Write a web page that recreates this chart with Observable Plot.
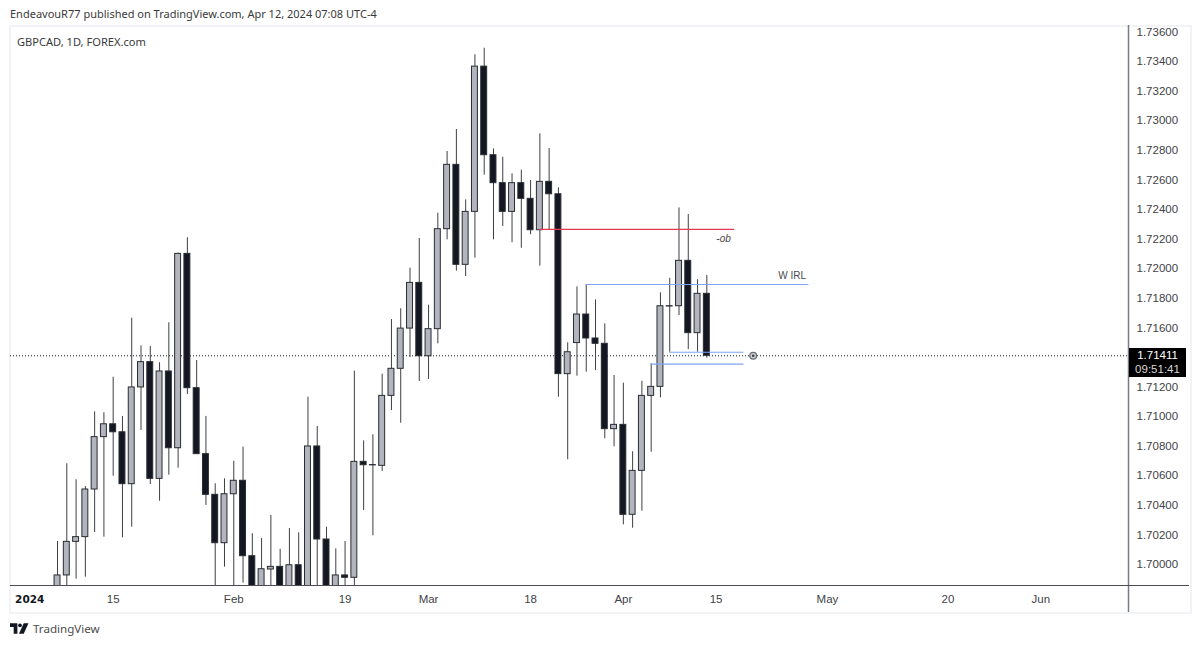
<!DOCTYPE html>
<html>
<head>
<meta charset="utf-8">
<script src="https://cdn.jsdelivr.net/npm/d3@7"></script>
<script src="https://cdn.jsdelivr.net/npm/@observablehq/plot@0.6"></script>
<style>
html,body{margin:0;padding:0;background:#fff;width:1200px;height:646px;overflow:hidden;position:relative}
#title{height:25px;padding-left:10px;font:11px/28px "Noto Sans",sans-serif;color:#3a3a3a;white-space:nowrap}
#chart svg{display:block}
#symbol{position:absolute;left:17px;top:34px;font:11.1px "Noto Sans",sans-serif;color:#3a3a3a}
#border{position:absolute;left:9px;top:25px;width:1179px;height:585px;border:2px solid #f2f3f7;box-sizing:content-box}
#priceBox{position:absolute;left:1129px;top:348px;width:57px;height:29px;background:#000;color:#fff;font:11.5px/14px "Liberation Sans",sans-serif;text-align:center;padding-top:0;box-sizing:border-box}
#priceBox .cd{color:#d8d8d8}
#footer{position:absolute;left:10px;top:621px;display:flex;align-items:center;font:11.6px "Noto Sans",sans-serif;color:#4c4c4c}
#footer svg{margin-right:4px}
</style>
</head>
<body>
<div id="border"></div>
<div id="title">EndeavouR77 published on TradingView.com, Apr 12, 2024 07:08 UTC-4</div>
<div id="chart" style="position:relative"></div>
<div id="symbol">GBPCAD, 1D, FOREX.com</div>
<div id="priceBox"><div>1.71411</div><div class="cd">09:51:41</div></div>
<div id="footer">
<svg width="19" height="13" viewBox="0 0 36 24"><path d="M0 2h14v20H7V9H0z" fill="#131722"/><circle cx="19" cy="6" r="3.6" fill="#131722"/><path d="M26 2h9l-9 20h-9z" fill="#131722"/></svg>
<span>TradingView</span>
</div>
<script>
// Trading-day index of each candle: 0 = Jan 5 2024, 70 = Apr 12 2024
const open = [1.69800,1.69926,1.70153,1.70185,1.70507,1.70861,1.70948,1.70894,1.70543,1.71197,1.71368,1.70579,1.71305,1.70786,1.72100,1.71192,1.70746,1.70471,1.70144,1.70475,1.70566,1.70056,1.69750,1.69966,1.69984,1.69780,1.69995,1.69750,1.70798,1.70169,1.69800,1.69926,1.69910,1.70694,1.70672,1.70667,1.71140,1.71323,1.71595,1.71904,1.71408,1.71591,1.72267,1.72702,1.72026,1.72384,1.73366,1.72767,1.72578,1.72384,1.72578,1.72472,1.72260,1.72587,1.72503,1.71287,1.71497,1.71690,1.71528,1.71492,1.70915,1.70944,1.70336,1.70633,1.71140,1.71201,1.71746,1.71746,1.72053,1.71564,1.71830];
const close = [1.69926,1.70153,1.70185,1.70507,1.70861,1.70948,1.70894,1.70543,1.71197,1.71368,1.70579,1.71305,1.70786,1.72100,1.71192,1.70746,1.70471,1.70144,1.70475,1.70566,1.70056,1.69750,1.69968,1.69984,1.69780,1.69995,1.69750,1.70798,1.70169,1.69800,1.69926,1.69910,1.70694,1.70671,1.70670,1.71140,1.71323,1.71595,1.71904,1.71408,1.71591,1.72267,1.72702,1.72026,1.72384,1.73366,1.72767,1.72578,1.72384,1.72578,1.72472,1.72260,1.72587,1.72503,1.71287,1.71435,1.71690,1.71528,1.71492,1.70915,1.70944,1.70336,1.70633,1.71140,1.71201,1.71746,1.71744,1.72053,1.71564,1.71830,1.71411];
const high = [1.70155,1.70681,1.70573,1.70527,1.71032,1.71026,1.71266,1.71001,1.71665,1.71478,1.71474,1.71364,1.71634,1.72105,1.72209,1.71379,1.71001,1.70546,1.70579,1.70698,1.70793,1.70208,1.70176,1.70331,1.70103,1.70243,1.70214,1.71131,1.70933,1.70252,1.70106,1.70155,1.71307,1.70836,1.70877,1.71287,1.71656,1.71729,1.72003,1.72204,1.71753,1.72375,1.72792,1.72941,1.72465,1.73446,1.73490,1.72810,1.72753,1.72641,1.72666,1.72596,1.72912,1.72812,1.72547,1.71499,1.71877,1.71893,1.71789,1.71627,1.71278,1.71226,1.70762,1.71239,1.71357,1.71837,1.71935,1.72411,1.72366,1.71925,1.71954];
const low = [1.69700,1.69750,1.69901,1.69914,1.70216,1.70185,1.70597,1.70180,1.70252,1.70906,1.70541,1.70428,1.70604,1.70651,1.71149,1.70746,1.70399,1.69700,1.69982,1.69700,1.69874,1.69700,1.69700,1.69700,1.69700,1.69700,1.69700,1.69700,1.69700,1.69700,1.69700,1.69700,1.69800,1.70365,1.70194,1.70629,1.71041,1.70955,1.71401,1.71237,1.71251,1.71492,1.72195,1.71983,1.71947,1.72071,1.72632,1.72195,1.72285,1.72175,1.72138,1.72229,1.72017,1.72260,1.71131,1.70708,1.71273,1.71300,1.71311,1.70850,1.70796,1.70268,1.70245,1.70360,1.70759,1.71127,1.71435,1.71683,1.71453,1.71435,1.71395];

const priceTicks = [1.70,1.702,1.704,1.706,1.708,1.71,1.712,1.716,1.718,1.72,1.722,1.724,1.726,1.728,1.73,1.732,1.734,1.736];
const dateTickIndex = [6,19,31,40,51,61,71,83,96,106];
const dateTickLabel = ["15","Feb","19","Mar","18","Apr","15","May","20","Jun"];
const yearTickIndex = [-3];
const yearTickLabel = ["2024"];

const lastPrice = 1.71411;
const segments = [
  {x1:52,x2:73,y:1.72265,c:"#e8384f"},
  {x1:57,x2:81,y:1.71893,c:"#7da4f5"},
  {x1:66,x2:74,y:1.71435,c:"#7da4f5"},
  {x1:64,x2:74,y:1.71354,c:"#7da4f5"}
];
const notes = [{x:71.8,y:1.72201,t:"-ob",s:"italic"},{x:79.2,y:1.71949,t:"W IRL",s:"normal"}];
const eyeIndex = 75;

const candles = open.map((o,i)=>({i,o,c:close[i],h:high[i],l:low[i],up:close[i]>=o}));
const xDomain = [-5.07,115.46];
const yDomain = [1.69858,1.73644];
const ink = "#131722";
const axisText = "#3f4247";
const fontAxis = "Liberation Sans";

const plot = Plot.plot({
  width:1200, height:590,
  marginTop:0, marginBottom:30, marginLeft:10, marginRight:72,
  x:{type:"linear",domain:xDomain,axis:null},
  y:{type:"linear",domain:yDomain,axis:null},
  style:{background:"transparent",overflow:"visible"},
  marks:[
    Plot.ruleY([lastPrice],{stroke:ink,strokeWidth:1,strokeDasharray:"1,2"}),
    Plot.ruleX(candles,{x:"i",y1:"l",y2:"h",stroke:"#3d3f45",strokeWidth:1,clip:true}),
    Plot.rect(candles,{x1:d=>d.i-0.32,x2:d=>d.i+0.32,y1:"o",y2:"c",fill:d=>d.up?"#b2b5be":ink,stroke:"#2a2c33",strokeWidth:1,clip:true}),
    Plot.ruleY(segments,{x1:"x1",x2:"x2",y:"y",stroke:"c",strokeWidth:1.2}),
    Plot.text(notes,{x:"x",y:"y",text:"t",fontStyle:"italic",fontSize:10,fontFamily:fontAxis,fill:"#4a4a4a",filter:d=>d.s==="italic"}),
    Plot.text(notes,{x:"x",y:"y",text:"t",fontSize:10,fontFamily:fontAxis,fill:"#4a4a4a",filter:d=>d.s==="normal"}),
    Plot.dot([eyeIndex],{x:d=>d,y:()=>lastPrice,r:3.4,fill:"#d0d1d5",stroke:"#6b6e76",strokeWidth:1.3}),
    Plot.dot([eyeIndex],{x:d=>d,y:()=>lastPrice,r:1.3,fill:"#3a3c42"}),
    Plot.ruleX([xDomain[1]],{stroke:"#787b86",strokeWidth:1.5,insetBottom:-27}),
    Plot.ruleY([yDomain[0]],{stroke:"#4a4c52",strokeWidth:1.2,insetRight:-61}),
    Plot.text(priceTicks,{x:()=>xDomain[1],y:d=>d,text:d=>d.toFixed(5),textAnchor:"start",dx:8,fontSize:11.5,fontFamily:fontAxis,fill:axisText}),
    Plot.text(dateTickIndex,{x:d=>d,text:(d,i)=>dateTickLabel[i],frameAnchor:"bottom",dy:17,fontSize:11.5,fontFamily:fontAxis,fill:axisText}),
    Plot.text(yearTickIndex,{x:d=>d,text:(d,i)=>yearTickLabel[i],frameAnchor:"bottom",dy:17,fontSize:10.5,fontWeight:"bold",fontFamily:"DejaVu Sans",fill:ink})
  ]
});
document.getElementById("chart").appendChild(plot);
</script>
</body>
</html>
